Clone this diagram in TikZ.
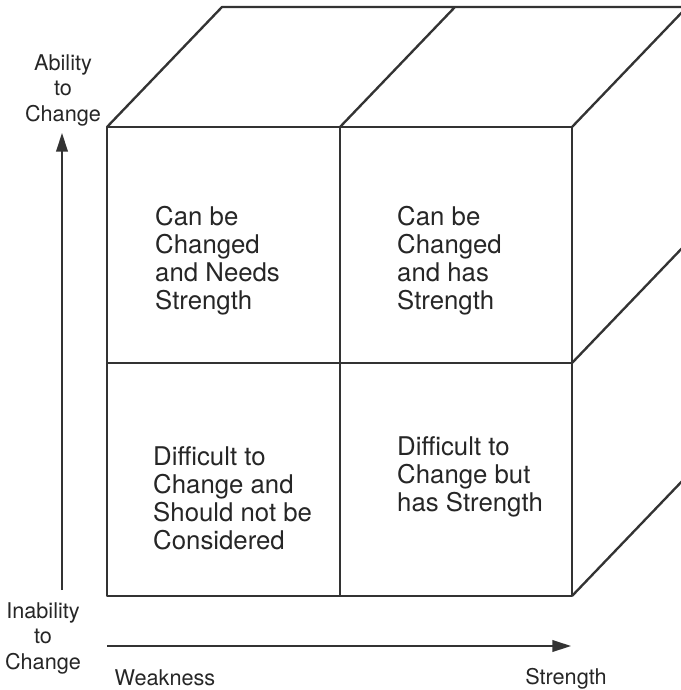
\documentclass[tikz,border=0pt]{standalone}
\usepackage{fontspec}
\setmainfont{TeX Gyre Heros}
\usetikzlibrary{positioning,arrows.meta}

\begin{document}
\begin{tikzpicture}[x=0.03cm,y=-0.03cm,
    edge/.style={line width=2pt, draw=black!80, line join=round},
    axis/.style={line width=1.6pt, draw=black!80, -{Triangle[length=16pt,width=10pt]}},
    cell/.style={font=\fontsize{22}{24}\selectfont, align=left, anchor=north west, inner sep=0pt, text=black!85},
    lbl/.style={font=\fontsize{18.5}{21.8}\selectfont, align=center, inner sep=0pt, text=black!85}]
    \useasboundingbox (0,0) rectangle (681,690);
    \coordinate (f1) at (107,127);
    \coordinate (f2) at (340,127);
    \coordinate (f3) at (572,127);
    \coordinate (m1) at (107,363);
    \coordinate (m3) at (572,363);
    \coordinate (b1) at (107,596);
    \coordinate (b2) at (340,596);
    \coordinate (b3) at (572,596);
    \coordinate (t1) at (222,7);
    \coordinate (t2) at (455,7);
    \coordinate (t3) at (687,7);
    \coordinate (r2) at (687,243);
    \coordinate (r3) at (687,476);
    \begin{scope}
    \clip (0,0) rectangle (681,690);
    \draw[edge] (f1) -- (f3) -- (b3) -- (b1) -- cycle;
    \draw[edge] (f2) -- (b2) (m1) -- (m3);
    \draw[edge] (f1) -- (t1) -- (t3) -- (f3) (f2) -- (t2);
    \draw[edge] (t3) -- (r3) -- (b3) (m3) -- (r2);
    \end{scope}
    \node[cell] (q1) at (155,206) {Can be\\Changed\\and Needs\\Strength};
    \node[cell] (q2) at (397,206) {Can be\\Changed\\and has\\Strength};
    \node[cell] (q3) at (153,446) {Difficult to\\Change and\\Should not be\\Considered};
    \node[cell] (q4) at (397,436) {Difficult to\\Change but\\has Strength};
    \coordinate (y0) at (62,590);
    \coordinate (y1) at (62,133);
    \coordinate (x0) at (107,646);
    \coordinate (x1) at (571,646);
    \draw[axis] (y0) -- (y1);
    \draw[axis] (x0) -- (x1);
    \node[lbl, anchor=north] (hi) at (63,54) {Ability\\to\\Change};
    \node[lbl, anchor=north] (lo) at (43,602) {Inability\\to\\Change};
    \node[lbl, anchor=base] (wk) at (165,685) {Weakness};
    \node[lbl, anchor=base] (st) at (566,684) {Strength};
\end{tikzpicture}
\end{document}
